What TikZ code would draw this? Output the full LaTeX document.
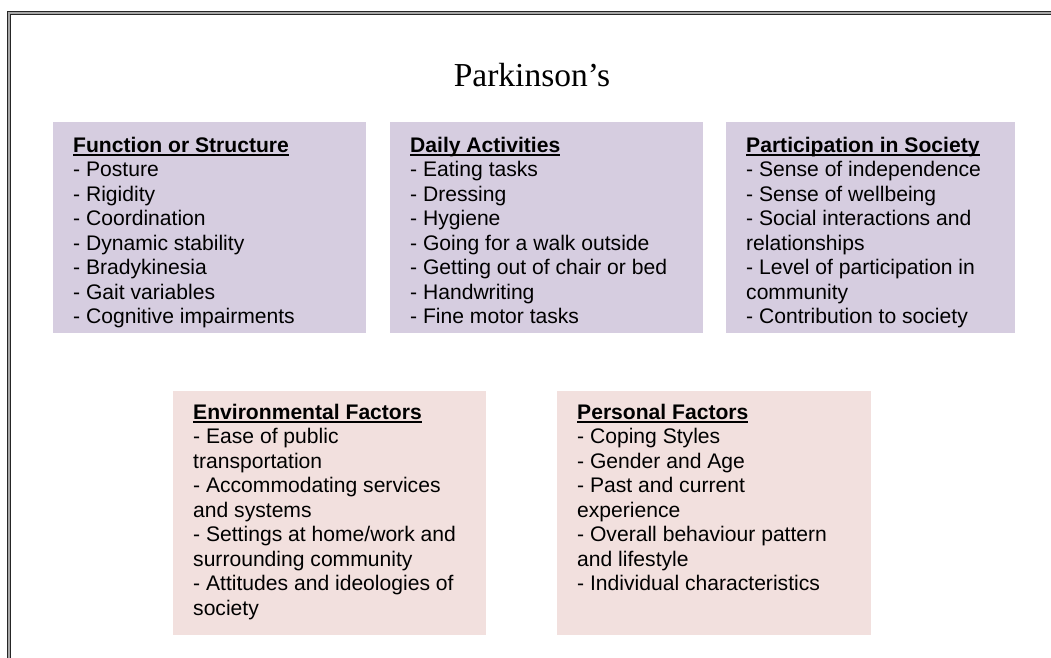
\documentclass[tikz,border=0pt]{standalone}
\usepackage{fontspec}
\newfontfamily\arialf{Liberation Sans}
\newfontfamily\timesf{Liberation Serif}
\definecolor{lav}{HTML}{D6CDE0}
\definecolor{rose}{HTML}{F2E0DE}
\definecolor{framegray}{HTML}{A8A8A8}
\newcommand\hdline[1]{\setbox0\hbox{\bfseries #1}\rlap{\rule[-3.3pt]{\wd0}{1.7pt}}\box0}
\tikzset{
  boxbase/.style={anchor=north west, inner sep=0pt, draw=none},
  lavbox/.style={boxbase, fill=lav},
  rosebox/.style={boxbase, fill=rose},
  boxtext/.style={anchor=north west, inner sep=0pt, align=left,
    font=\arialf\fontsize{21.1}{24.5}\selectfont},
}
\begin{document}
\begin{tikzpicture}[x=1pt,y=-1pt]
\useasboundingbox (0,0) rectangle (1051,657);
% frame
\draw[line width=4pt, black!85, line join=miter] (9,660) -- (9,13) -- (1055,13);
\draw[line width=1.6pt, framegray, line join=miter] (9,660) -- (9,13) -- (1055,13);
% title
\node[anchor=base, inner sep=0pt, font=\timesf\fontsize{33.5}{40}\selectfont] (title) at (532,86) {Parkinson’s};
% boxes
\node[lavbox, minimum width=313pt, minimum height=211pt] (b1) at (53,122) {};
\node[lavbox, minimum width=313pt, minimum height=211pt] (b2) at (390,122) {};
\node[lavbox, minimum width=289pt, minimum height=211pt] (b3) at (726,122) {};
\node[rosebox, minimum width=313pt, minimum height=244pt] (b4) at (173,391) {};
\node[rosebox, minimum width=314pt, minimum height=244pt] (b5) at (557,391) {};
% texts
\node[boxtext] (t1) at (73,136) {\rule{0pt}{16pt}\hdline{Function or Structure}\\
- Posture\\
- Rigidity\\
- Coordination\\
- Dynamic stability\\
- Bradykinesia\\
- Gait variables\\
- Cognitive impairments};
\node[boxtext] (t2) at (410,136) {\rule{0pt}{16pt}\hdline{Daily Activities}\\
- Eating tasks\\
- Dressing\\
- Hygiene\\
- Going for a walk outside\\
- Getting out of chair or bed\\
- Handwriting\\
- Fine motor tasks};
\node[boxtext] (t3) at (746,136) {\rule{0pt}{16pt}\hdline{Participation in Society}\\
- Sense of independence\\
- Sense of wellbeing\\
- Social interactions and\\
relationships\\
- Level of participation in\\
community\\
- Contribution to society};
\node[boxtext] (t4) at (193,403) {\rule{0pt}{16pt}\hdline{Environmental Factors}\\
- Ease of public\\
transportation\\
- Accommodating services\\
and systems\\
- Settings at home/work and\\
surrounding community\\
- Attitudes and ideologies of\\
society};
\node[boxtext] (t5) at (577,403) {\rule{0pt}{16pt}\hdline{Personal Factors}\\
- Coping Styles\\
- Gender and Age\\
- Past and current\\
experience\\
- Overall behaviour pattern\\
and lifestyle\\
- Individual characteristics};
\end{tikzpicture}
\end{document}
